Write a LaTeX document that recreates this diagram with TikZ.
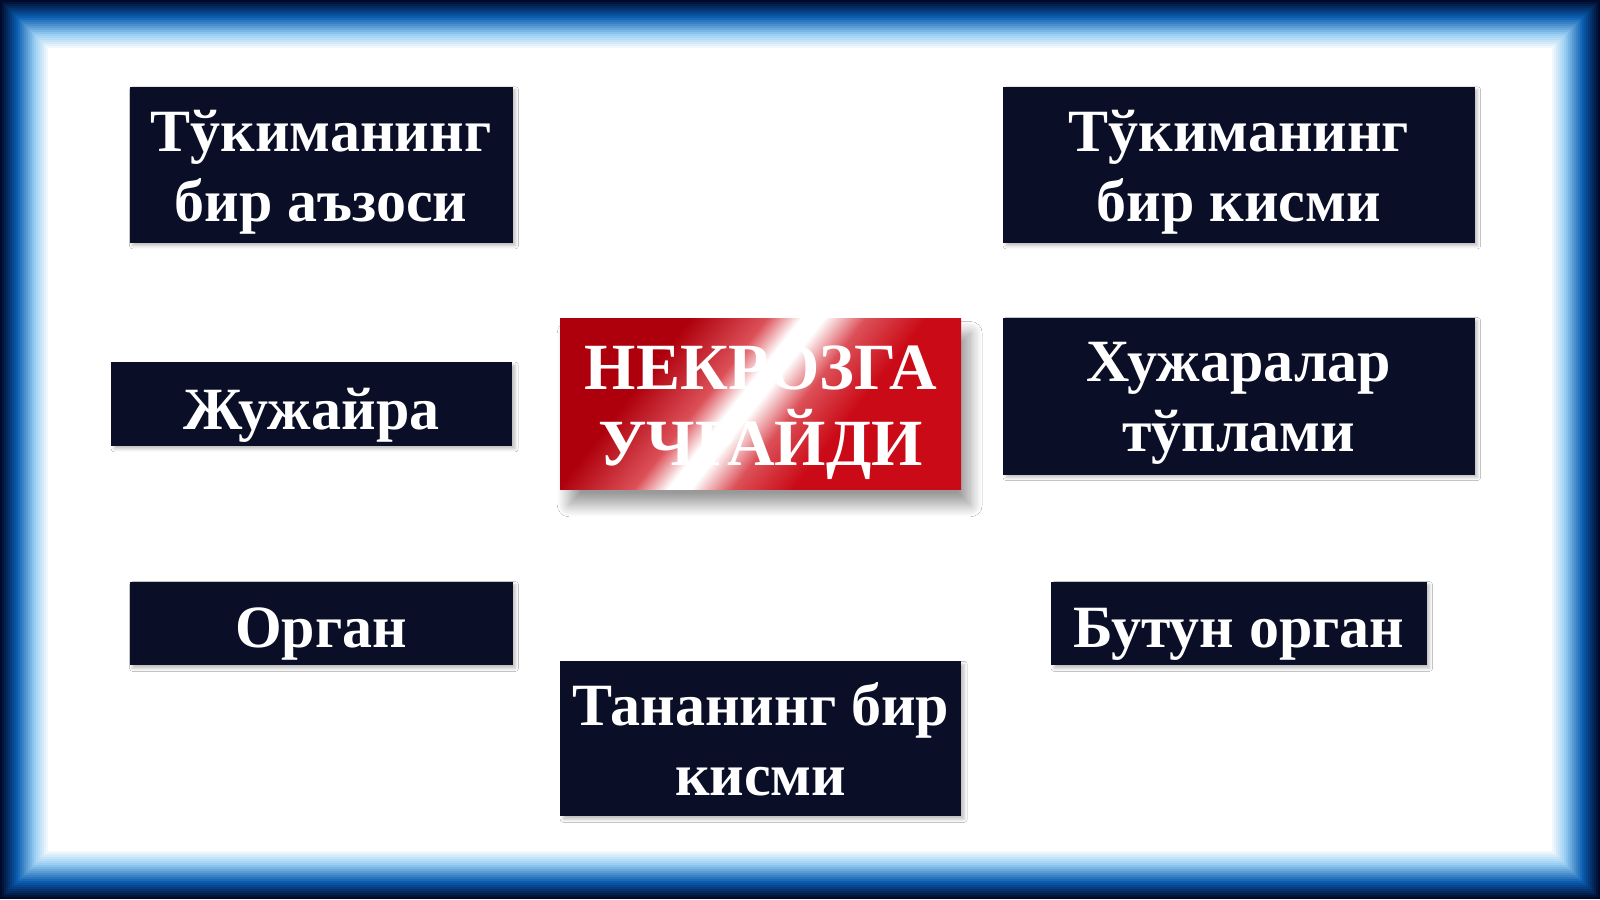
\documentclass[tikz,border=0pt]{standalone}
\usepackage{fontspec}
\setmainfont{Liberation Serif}
\usetikzlibrary{shadows.blur}
\definecolor{fnavy}{HTML}{000A2A}
\definecolor{fblue}{HTML}{0A5CB0}
\definecolor{flight}{HTML}{9ACFF2}
\definecolor{boxnavy}{HTML}{0A0E26}
\definecolor{rdark}{HTML}{AE000C}
\definecolor{rmid}{HTML}{DC5058}
\definecolor{rright}{HTML}{CA0A16}
\pgfdeclarehorizontalshading{redstreak}{100bp}{color(0bp)=(rdark); color(25bp)=(rdark); color(32bp)=(rdark); color(42bp)=(rmid); color(46.5bp)=(white); color(49.5bp)=(white); color(55bp)=(rmid); color(63bp)=(rright); color(75bp)=(rright); color(100bp)=(rright)}
\newcommand\dn[2]{\raisebox{-#1}[\height][\depth]{#2}}
\begin{document}
\begin{tikzpicture}[x=1pt,y=-1pt,
 lbl/.style={rectangle, fill=boxnavy, text=white, font=\bfseries\fontsize{60}{70}\selectfont, align=center, inner sep=0pt,
   blur shadow={shadow xshift=3pt, shadow yshift=-3pt, shadow blur radius=3pt, shadow opacity=25}},
 hot/.style={rectangle, shading=redstreak, shading angle=-38, text=white, font=\bfseries\fontsize{66}{76}\selectfont, align=center, inner sep=0pt,
   blur shadow={shadow xshift=9pt, shadow yshift=-15pt, shadow blur radius=12pt, shadow blur steps=14, shadow opacity=40}}
 ]
\useasboundingbox (0,0) rectangle (1600,899);
\foreach \i in {0,...,23}{
  \pgfmathsetmacro\d{\i*2}
  \ifnum\i<8 \pgfmathsetmacro\p{\i/8*100}\colorlet{fc}{fblue!\p!fnavy}%
  \else\ifnum\i<17 \pgfmathsetmacro\p{(\i-8)/9*100}\colorlet{fc}{flight!\p!fblue}%
  \else \pgfmathsetmacro\p{(\i-17)/7*100}\colorlet{fc}{white!\p!flight}\fi\fi
  \fill[fc] (\d,\d) rectangle (1600-\d,899-\d);
}
\fill[white] (48,48) rectangle (1552,851);

\node[lbl, minimum width=383pt, minimum height=156pt] (a) at (321,164.8) {\dn{7pt}{Тўкиманинг}\\\dn{7pt}{бир аъзоси}};
\node[lbl, minimum width=471.5pt, minimum height=156pt] (b) at (1238.8,164.8) {\dn{7pt}{Тўкиманинг}\\\dn{7pt}{бир кисми}};
\node[lbl, minimum width=401pt, minimum height=83.7pt] (c) at (311.7,404) {\dn{11pt}{Жужайра}};
\node[hot, minimum width=401pt, minimum height=171.4pt] (r) at (760.7,404.1) {\dn{9pt}{НЕКРОЗГА}\\\dn{9pt}{УЧРАЙДИ}};
\node[lbl, minimum width=471.5pt, minimum height=157pt] (d) at (1238.8,396) {\dn{7pt}{Хужаралар}\\\dn{7pt}{тўплами}};
\node[lbl, minimum width=383pt, minimum height=83.7pt] (e) at (321,623.5) {\dn{11pt}{Орган}};
\node[lbl, minimum width=375.5pt, minimum height=83.7pt] (f) at (1238.8,623.5) {\dn{11pt}{Бутун орган}};
\node[lbl, minimum width=401pt, minimum height=155.1pt] (g) at (760.7,738.8) {Тананинг бир\\кисми};
\end{tikzpicture}
\end{document}
